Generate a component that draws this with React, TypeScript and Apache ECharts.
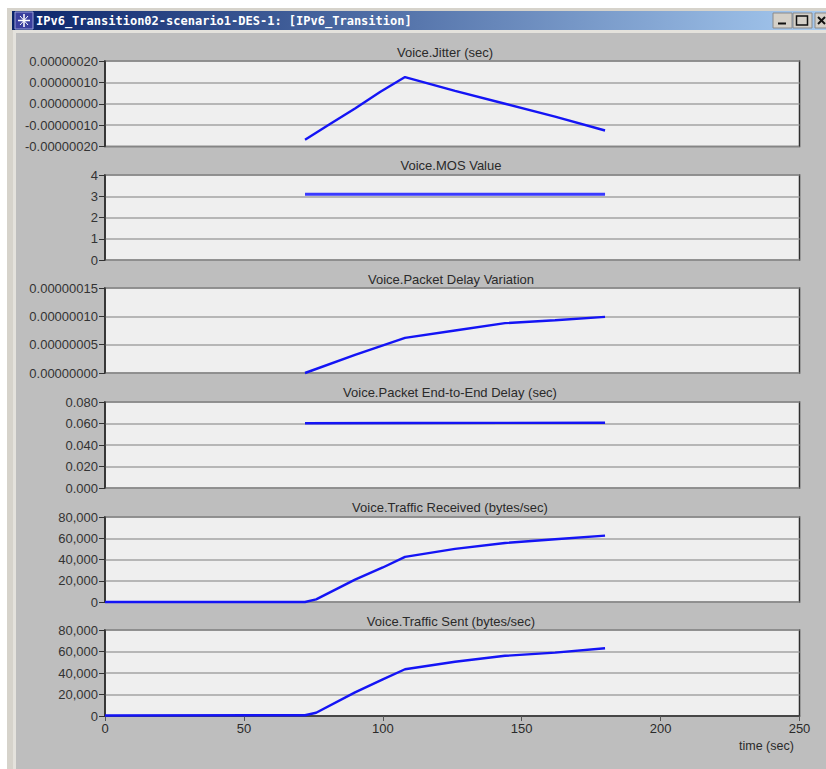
import React, { useEffect, useRef } from "react";
import * as echarts from "echarts";

const windowTitle = "IPv6_Transition02-scenario1-DES-1: [IPv6_Transition]";
const panelTitles = [
  "Voice.Jitter (sec)",
  "Voice.MOS Value",
  "Voice.Packet Delay Variation",
  "Voice.Packet End-to-End Delay (sec)",
  "Voice.Traffic Received (bytes/sec)",
  "Voice.Traffic Sent (bytes/sec)",
];

const jitter = [[72, -1.68e-7], [81, -9.5e-8], [90, -2.2e-8], [99, 5.5e-8], [108, 1.25e-7], [126, 6e-8], [144, 0], [162, -6e-8], [180, -1.25e-7]];
const mos = [[72, 3.1], [108, 3.1], [144, 3.1], [180, 3.1]];
const delayVariation = [[72, 0], [90, 3.2e-8], [108, 6.2e-8], [126, 7.5e-8], [144, 8.8e-8], [162, 9.3e-8], [180, 9.9e-8]];
const endToEnd = [[72, 0.0603], [108, 0.0605], [144, 0.0606], [180, 0.0607]];
const received = [[0, 0], [72, 0], [76, 2500], [90, 21000], [100, 32500], [108, 42500], [126, 50000], [144, 55500], [162, 59000], [180, 62500]];
const sent = [[0, 500], [72, 700], [76, 3000], [90, 22000], [100, 34000], [108, 43500], [126, 50500], [144, 56000], [162, 59000], [180, 63000]];
const allSeries = [jitter, mos, delayVariation, endToEnd, received, sent];

const yMins = [-2e-7, 0, 0, 0, 0, 0];
const yMaxes = [2e-7, 4, 1.5e-7, 0.08, 80000, 80000];
const yIntervals = [1e-7, 1, 5e-8, 0.02, 20000, 20000];
const yFormats = [
  (v: number) => v.toFixed(8),
  (v: number) => String(v),
  (v: number) => v.toFixed(8),
  (v: number) => v.toFixed(3),
  (v: number) => v.toLocaleString("en-US"),
  (v: number) => v.toLocaleString("en-US"),
];
const xMax = 250;
const xInterval = 50;
const xAxisName = "time (sec)";

const panelTops = [61, 175, 288, 402, 517, 630];
const panelHeights = [85.5, 85, 85, 86, 85, 86];
const titleTops = [45, 158, 272, 385, 500, 614];
const titleCentres = [445, 451, 451, 450, 450, 451];
const font = "'Liberation Sans', Arial, sans-serif";

export default function App() {
  const ref = useRef<HTMLDivElement>(null);
  useEffect(() => {
    document.body.style.margin = "0";
    const chart = echarts.init(ref.current!, null, { renderer: "svg" });
    const grid = panelTops.map((top, i) => ({
      left: 105, top, width: 694.5, height: panelHeights[i],
      show: true, backgroundColor: "#efefef", borderColor: "#2e2e2e", borderWidth: 1.5,
    }));
    const chrome: any[] = [
      { type: "rect", z: -10, shape: { x: 7, y: 8, width: 819, height: 761 }, style: { fill: "#d6d3cb" } },
      { type: "rect", z: -9, shape: { x: 13, y: 30, width: 813, height: 739 }, style: { fill: "#e4e2dc" } },
      { type: "rect", z: -8, shape: { x: 16, y: 33, width: 810, height: 736 }, style: { fill: "#bebebe" } },
      {
        type: "rect", z: -7, shape: { x: 12, y: 11, width: 814, height: 19 },
        style: {
          fill: new echarts.graphic.LinearGradient(0, 0, 1, 0, [
            { offset: 0, color: "#0a246a" },
            { offset: 1, color: "#a6caf0" },
          ]),
        },
      },
      { type: "rect", z: -6, shape: { x: 15, y: 12, width: 18, height: 17 }, style: { fill: "#3a3f9e", stroke: "#9aa0d8", lineWidth: 1 } },
      { type: "line", z: -5, shape: { x1: 18, y1: 20.5, x2: 30, y2: 20.5 }, style: { stroke: "#ffffff", lineWidth: 1.5 } },
      { type: "line", z: -5, shape: { x1: 24, y1: 14, x2: 24, y2: 27 }, style: { stroke: "#ffffff", lineWidth: 1.5 } },
      { type: "line", z: -5, shape: { x1: 20, y1: 16, x2: 28, y2: 25 }, style: { stroke: "#ffffff", lineWidth: 1 } },
      { type: "line", z: -5, shape: { x1: 28, y1: 16, x2: 20, y2: 25 }, style: { stroke: "#ffffff", lineWidth: 1 } },
      {
        type: "text", z: -5, x: 36, y: 20.5,
        style: { text: windowTitle, fill: "#ffffff", font: "bold 12px 'DejaVu Sans Mono', monospace", verticalAlign: "middle" },
      },
      { type: "rect", z: -5, shape: { x: 773, y: 13, width: 19, height: 15 }, style: { fill: "#d4d0c8", stroke: "#8a8a8a", lineWidth: 1 } },
      { type: "rect", z: -5, shape: { x: 793, y: 13, width: 19, height: 15 }, style: { fill: "#d4d0c8", stroke: "#8a8a8a", lineWidth: 1 } },
      { type: "rect", z: -5, shape: { x: 815, y: 13, width: 19, height: 15 }, style: { fill: "#d4d0c8", stroke: "#8a8a8a", lineWidth: 1 } },
      { type: "rect", z: -4, shape: { x: 778, y: 22.5, width: 8, height: 2 }, style: { fill: "#111" } },
      { type: "rect", z: -4, shape: { x: 796.5, y: 16, width: 11, height: 9 }, style: { fill: "none", stroke: "#111", lineWidth: 1.5 } },
      { type: "line", z: -4, shape: { x1: 818, y1: 17, x2: 825, y2: 24 }, style: { stroke: "#111", lineWidth: 2 } },
      { type: "line", z: -4, shape: { x1: 825, y1: 17, x2: 818, y2: 24 }, style: { stroke: "#111", lineWidth: 2 } },
      {
        type: "text", x: 739, y: 746,
        style: { text: xAxisName, fill: "#2a2a2a", font: `12.5px ${font}`, verticalAlign: "middle" },
      },
    ];
    chart.setOption({
      animation: false,
      backgroundColor: "#ffffff",
      grid,
      title: panelTitles.map((text, i) => ({
        text, left: titleCentres[i], top: titleTops[i], textAlign: "center", padding: 0,
        textStyle: { fontFamily: font, fontSize: 13, fontWeight: "normal", color: "#2a2a2a", lineHeight: 14 },
      })),
      xAxis: panelTops.map((_, i) => ({
        type: "value", gridIndex: i, min: 0, max: xMax, interval: xInterval,
        splitLine: { show: false },
        axisLine: { show: i === 5, onZero: false, lineStyle: { color: "#2e2e2e", width: 1.5 } },
        axisTick: { show: i === 5, length: 5, lineStyle: { color: "#555" } },
        axisLabel: {
          show: i === 5, margin: 6, color: "#2a2a2a", fontFamily: font, fontSize: 13,
          showMinLabel: true, showMaxLabel: true,
        },
      })),
      yAxis: panelTops.map((_, i) => ({
        type: "value", gridIndex: i, min: yMins[i], max: yMaxes[i], interval: yIntervals[i],
        splitLine: { show: true, lineStyle: { color: "#a3a3a3", width: 1.5 } },
        axisLine: { show: true, onZero: false, lineStyle: { color: "#2e2e2e", width: 1.5 } },
        axisTick: { show: true, length: 6, lineStyle: { color: "#333" } },
        axisLabel: {
          margin: 7, color: "#333", fontFamily: font, fontSize: 13,
          showMinLabel: true, showMaxLabel: true, hideOverlap: false,
          formatter: yFormats[i],
        },
      })),
      series: allSeries.map((data, i) => ({
        type: "line", xAxisIndex: i, yAxisIndex: i, data, showSymbol: false, symbol: "none",
        z: 5, clip: false,
        lineStyle: { color: i === 1 ? "#3a3aff" : "#1414f5", width: i === 1 ? 3 : 2.4 },
      })),
      graphic: { elements: chrome },
    });
    return () => chart.dispose();
  }, []);
  return <div ref={ref} style={{ width: 826, height: 769 }} />;
}
